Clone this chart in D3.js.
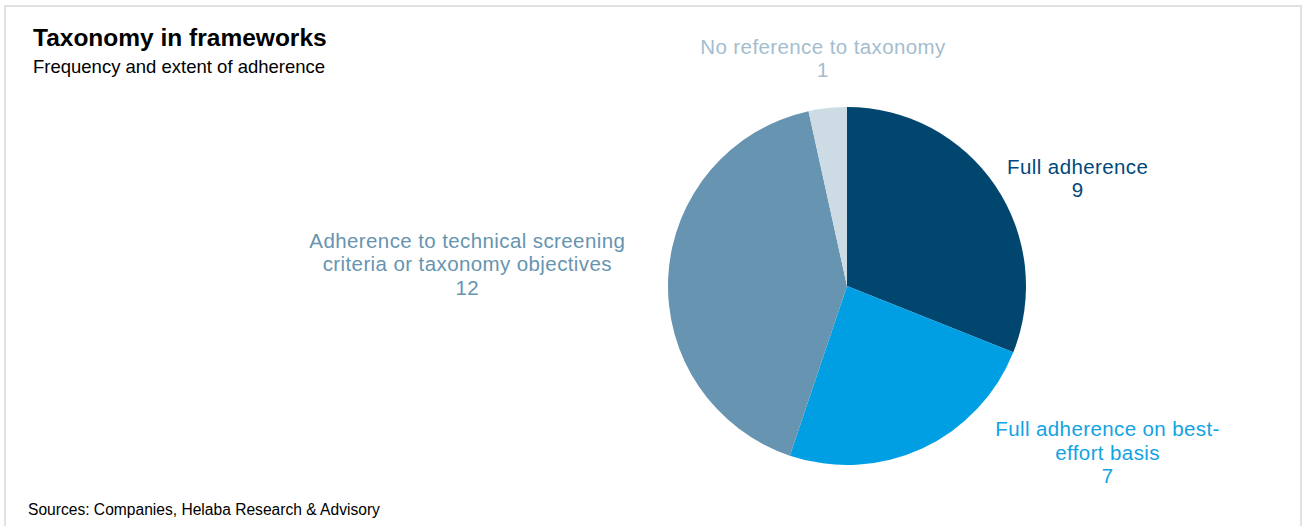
<!DOCTYPE html>
<html>
<head>
<meta charset="utf-8">
<script src="https://cdn.jsdelivr.net/npm/d3@7"></script>
<style>
  body { margin: 0; background: #fff; }
  svg { display: block; font-family: "Liberation Sans", Arial, sans-serif; }
</style>
</head>
<body>
<svg id="chart" width="1303" height="526"></svg>
<script>
// data
var categories = ['Full adherence', 'Full adherence on best-effort basis', 'Adherence to technical screening criteria or taxonomy objectives', 'No reference to taxonomy'];
var values = [9, 7, 12, 1];
var labelLines = [
    ['Full adherence'],
    ['Full adherence on best-', 'effort basis'],
    ['Adherence to technical screening', 'criteria or taxonomy objectives'],
    ['No reference to taxonomy']
];
var sliceColors = ['#00466f', '#009fe3', '#6794b0', '#cddbe5'];
var labelColors = ['#00497a', '#12a3e2', '#6794b0', '#a3bdcf'];

var svg = d3.select('#chart'),
    cx = 847,
    cy = 286,
    radius = 179,
    lineHeight = 23.3;

// frame
svg.append('rect')
    .attr('x', 5).attr('y', 6)
    .attr('width', 1296).attr('height', 540)
    .attr('fill', 'none')
    .attr('stroke', '#e1e1e1')
    .attr('stroke-width', 2);

svg.append('text')
    .attr('x', 33).attr('y', 46)
    .attr('font-size', 24.5).attr('font-weight', 'bold')
    .attr('fill', '#000')
    .text('Taxonomy in frameworks');

svg.append('text')
    .attr('x', 33).attr('y', 73)
    .attr('font-size', 18.5)
    .attr('fill', '#000')
    .text('Frequency and extent of adherence');

svg.append('text')
    .attr('x', 28).attr('y', 515)
    .attr('font-size', 15.6)
    .attr('fill', '#000')
    .text('Sources: Companies, Helaba Research & Advisory');

var data = categories.map(function(c, i) {
    return { name: c, value: values[i], lines: labelLines[i], index: i };
});

var pie = d3.pie().sort(null).value(function(d) { return d.value; });
var arc = d3.arc().innerRadius(0).outerRadius(radius);
var labelArc = d3.arc().innerRadius(radius + 20).outerRadius(radius + 20);

var arcs = pie(data);

var g = svg.append('g').attr('transform', 'translate(' + cx + ',' + cy + ')');

g.selectAll('path')
    .data(arcs)
    .enter()
        .append('path')
        .attr('d', arc)
        .attr('fill', function(d) { return sliceColors[d.index]; });

// label nudges relative to the outer label arc (layout, not data)
var labelShift = [[66, 11], [177, -7], [-181, -4], [-2.5, -23]];

var labels = g.selectAll('text.label')
    .data(arcs)
    .enter()
        .append('text')
        .attr('class', 'label')
        .attr('text-anchor', 'middle')
        .attr('font-size', 20.5)
        .attr('letter-spacing', 0.4)
        .attr('fill', function(d) { return labelColors[d.index]; })
        .attr('transform', function(d) {
            var c = labelArc.centroid(d),
                s = labelShift[d.index],
                n = d.data.lines.length + 1;
            return 'translate(' + (c[0] + s[0]) + ',' + (c[1] + s[1] - (n - 1) * lineHeight / 2) + ')';
        });

labels.each(function(d) {
    var t = d3.select(this);
    d.data.lines.concat([String(d.data.value)]).forEach(function(line, i) {
        t.append('tspan').attr('x', 0).attr('dy', i === 0 ? 0 : lineHeight).text(line);
    });
});
</script>
</body>
</html>
